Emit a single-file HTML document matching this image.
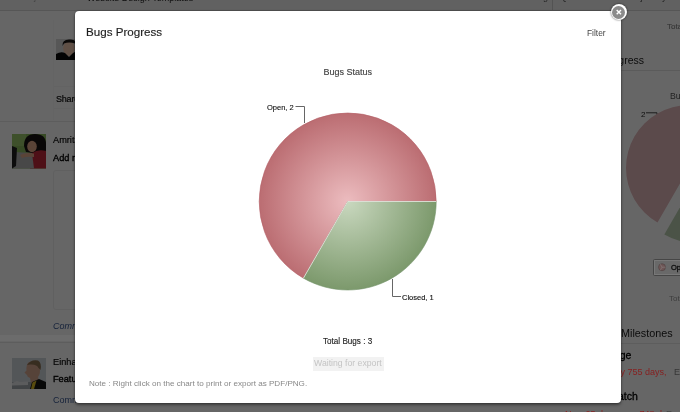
<!DOCTYPE html>
<html><head><meta charset="utf-8">
<style>
html,body{margin:0;padding:0;width:680px;height:412px;overflow:hidden;background:#fff;font-family:"Liberation Sans",sans-serif;}
.t{position:absolute;white-space:nowrap;line-height:1;will-change:transform;}
svg{will-change:transform;}
.ab{position:absolute;}
#ov{position:absolute;left:0;top:0;width:680px;height:412px;background:rgba(0,0,0,0.6);}
#modal{position:absolute;left:75px;top:11px;width:546px;height:392px;background:#fff;border-radius:4px;box-shadow:0 2px 3px rgba(0,0,0,0.4),0 0 2px rgba(0,0,0,0.4);}
</style></head><body>
<!-- background page -->
<div class="ab" style="left:0;top:0;width:680px;height:10px;background:#f3f3f3;"></div>
<div class="ab" style="left:0;top:9.5px;width:680px;height:1.5px;background:#d8d8d8;"></div>
<div class="t" style="left:20px;top:-7.3px;font-size:9px;color:#aaa;">Projects</div>
<div class="t" style="left:87px;top:-6.3px;font-size:9px;color:#222;">Website Design Templates</div>
<div class="t" style="left:498px;top:-7.2px;font-size:9px;color:#555;">Tasks &amp; Bugs</div>
<div class="ab" style="left:552px;top:0;width:1px;height:10px;background:#d0d0d0;"></div>
<div class="t" style="left:560px;top:-7.2px;font-size:9px;color:#555;">Q Search in this Project by Milestone</div>

<!-- left feed -->
<div class="ab" style="left:53px;top:86px;width:540px;height:1px;background:#f7f7f7;"></div>
<div class="ab" style="left:53px;top:108px;width:540px;height:1px;background:#f7f7f7;"></div>
<div class="ab" style="left:53px;top:20px;width:1px;height:100px;background:#fbfbfb;"></div>
<svg class="ab" style="left:56px;top:39px;" width="22" height="21" viewBox="0 0 22 21">
 <rect width="22" height="21" fill="#d9d9d9"/>
 <ellipse cx="13" cy="9.5" rx="5.8" ry="7.5" fill="#f0c8b0"/>
 <path d="M6.5,7 Q6,0 14,0.5 Q21,0 20.5,7 L19,4.5 Q13,2.5 8,4.5 Z" fill="#1a1412"/>
 <path d="M0,21 L0,15 Q5,12 9,14 L13,18 L17,14 Q20,12 22,13 L22,21 Z" fill="#0a0a0a"/>
</svg>
<div class="t" style="left:56px;top:94.5px;font-size:9px;color:#111;letter-spacing:-0.2px;-webkit-text-stroke:0.2px #111;">Share</div>
<div class="ab" style="left:0;top:121px;width:600px;height:1px;background:#e8e8e8;"></div>
<svg class="ab" style="left:12px;top:133.5px;" width="34" height="34.5" viewBox="0 0 34 34.5">
 <rect width="34" height="34.5" fill="#8ab85c"/>
 <rect x="0" y="0" width="14" height="12" fill="#9cc86c"/>
 <path d="M12,12 Q12,0 23,0 Q34,0 34,10 L34,24 Q30,22 26,20 L14,18 Z" fill="#181212"/>
 <ellipse cx="20" cy="12.5" rx="4.8" ry="5.8" fill="#e2aa8a"/>
 <path d="M18,34.5 L20,19 Q26,15 34,17 L34,34.5 Z" fill="#c42a3a"/>
 <path d="M2,18 L20,19 L22,34.5 L0,34.5 L0,20 Z" fill="#b4b4b4"/>
 <path d="M0,12 L5,14 L4,32 L0,34.5 Z" fill="#202020"/>
 <path d="M8,21 Q14,18 22,19.5 L22,23 Q15,22 10,24 Z" fill="#e2aa8a"/>
</svg>
<div class="t" style="left:53px;top:136.4px;font-size:9.2px;color:#111;-webkit-text-stroke:0.2px #111;">Amrita</div>
<div class="t" style="left:53px;top:154.1px;font-size:9.2px;color:#000;-webkit-text-stroke:0.35px #000;">Add new</div>
<div class="ab" style="left:53px;top:170px;width:540px;height:140px;border:1px solid #f0f0f0;box-sizing:border-box;border-radius:3px;"></div>
<div class="t" style="left:53px;top:321.9px;font-size:9px;font-style:italic;color:#3c5a94;">Comments</div>
<div class="ab" style="left:0;top:342px;width:600px;height:1px;background:#e8e8e8;"></div>
<svg class="ab" style="left:12px;top:358px;" width="34" height="31" viewBox="0 0 34 31">
 <rect width="34" height="31" fill="#d0d6dc"/>
 <rect y="24" width="34" height="7" fill="#a4aab0"/>
 <path d="M0,25 L5,23 L8,24 L16,23.5 L16,27 L0,27.5 Z" fill="#e4e6e8"/>
 <path d="M17,4 Q25,2 27.5,9 Q29,15 26,19 L27,23 L19,25 L18,20 Q15,19 15,17 L12.5,14.5 L14.5,12.5 Q14,6 17,4 Z" fill="#d8a890"/>
 <path d="M15,7 Q19,1 26,2.5 Q30,5 28.5,12 L26.5,10 Q25,6 18,6.5 Z" fill="#8a7050"/>
 <path d="M18,31 L20,24 L27,21 L34,24 L34,31 Z" fill="#161616"/>
 <path d="M19,31 L20.5,24.5 L24.5,22.5 L22,31 Z" fill="#dcbc24"/>
</svg>
<div class="t" style="left:53px;top:357.8px;font-size:9.2px;color:#111;-webkit-text-stroke:0.2px #111;">Einhard</div>
<div class="t" style="left:53px;top:375.2px;font-size:9.2px;color:#000;-webkit-text-stroke:0.35px #000;">Feature</div>
<div class="t" style="left:53px;top:395.9px;font-size:9px;color:#3c5a94;">Comments</div>

<!-- right widget -->
<div class="t" style="left:667px;top:23.2px;font-size:8px;color:#888;-webkit-text-stroke:0.15px #888;">Total</div>
<div class="t" style="left:602px;top:54.8px;font-size:10.5px;color:#222;">Progress</div>
<div class="ab" style="left:600px;top:70px;width:80px;height:1px;background:#e4e4e4;"></div>
<div class="t" style="left:670.2px;top:92.3px;font-size:8.7px;color:#555;">Bugs</div>
<svg class="ab" style="left:600px;top:100px;" width="80" height="200" viewBox="600 100 80 200">
 <text x="641" y="116.6" font-size="8" font-family="Liberation Sans" fill="#222">2</text>
 <polyline points="646,112.8 657,112.8 657,115" fill="none" stroke="#444" stroke-width="1"/>
 <path d="M689,168 L657.5,222.56 A63,63 0 1 1 752,168 Z" fill="#e4b8bc"/>
 <path d="M695.8,180 L758.8,180 A63,63 0 0 1 664.3,234.56 Z" fill="#bcd0b2"/>
</svg>
<div class="t" style="left:670.7px;top:263.8px;font-size:7.5px;color:#111;-webkit-text-stroke:0.3px #111;">Open</div>
<div class="t" style="left:669.4px;top:295.3px;font-size:8px;color:#999;">Total</div>
<div class="t" style="left:621px;top:327.6px;font-size:10.8px;color:#222;">Milestones</div>
<div class="ab" style="left:600px;top:343px;width:80px;height:1px;background:#e8e8e8;"></div>
<div class="t" style="left:604px;top:349.5px;font-size:10.5px;color:#000;-webkit-text-stroke:0.3px #000;">Stage</div>
<div class="t" style="left:674.2px;top:367.8px;font-size:9px;color:#888;">Ends</div>
<div class="t" style="left:611px;top:391px;font-size:10.5px;color:#000;-webkit-text-stroke:0.3px #000;">Patch</div>
<div class="t" style="left:666px;top:409.8px;font-size:9px;color:#aaa;">Ends</div>

<div id="ov"></div>
<div class="ab" style="left:653.3px;top:259.2px;width:40px;height:17.3px;border:1px solid #464646;box-sizing:border-box;border-radius:1.5px;box-shadow:inset 0 0 0 1px rgba(255,255,255,0.1);background:rgba(255,255,255,0.02);"></div>
<svg class="ab" style="left:657px;top:262px;" width="10" height="10" viewBox="0 0 10 10">
 <circle cx="5" cy="5.2" r="3.5" fill="#6e5656" stroke="#4e4040" stroke-width="0.6"/>
 <path d="M5,5.2 L8.5,5.2 M5,5.2 L3.3,2.2 M5,5.2 L3.3,8.2" stroke="#8a8080" stroke-width="0.6"/>
</svg>
<div class="ab" style="left:0;top:335px;width:600px;height:5.5px;background:rgba(255,255,255,0.04);"></div>
<div class="t" style="left:602px;top:367.8px;font-size:9px;color:#862020;">Delay 755 days,</div>
<div class="t" style="left:565px;top:409.8px;font-size:9px;color:#862020;">Now 25 days ago, 748 days</div>

<!-- modal -->
<div id="modal"></div>
<div class="t" style="left:86px;top:25.8px;font-size:11.6px;color:#1e1e1e;-webkit-text-stroke:0.15px #1e1e1e;">Bugs Progress</div>
<div class="t" style="left:587px;top:29.2px;font-size:8.4px;color:#444;">Filter</div>

<svg class="ab" style="left:75px;top:11px;" width="546" height="392" viewBox="75 11 546 392">
 <defs>
  <radialGradient id="gr" cx="347.7" cy="201.5" r="88.5" gradientUnits="userSpaceOnUse">
   <stop offset="0" stop-color="#ecbcbf"/>
   <stop offset="1" stop-color="#bb6d72"/>
  </radialGradient>
  <radialGradient id="gg" cx="347.7" cy="201.5" r="88.5" gradientUnits="userSpaceOnUse">
   <stop offset="0" stop-color="#c9d8bf"/>
   <stop offset="1" stop-color="#7c996c"/>
  </radialGradient>
 </defs>
 <text x="323.5" y="74.7" font-size="9" font-family="Liberation Sans" fill="#444" stroke="#444" stroke-width="0.15">Bugs Status</text>
 <path d="M347.7,201.5 L303.45,278.14 A88.5,88.5 0 1 1 436.2,201.5 Z" fill="url(#gr)" stroke="#b56268" stroke-width="0.6"/>
 <path d="M347.7,201.5 L436.2,201.5 A88.5,88.5 0 0 1 303.45,278.14 Z" fill="url(#gg)" stroke="#74946a" stroke-width="0.6"/>
 <path d="M303.45,278.14 L347.7,201.5 L436.2,201.5" fill="none" stroke="rgba(255,255,255,0.75)" stroke-width="0.9"/>
 <polyline points="295.5,106.5 304.5,106.5 304.5,123" fill="none" stroke="#666" stroke-width="1"/>
 <text x="267" y="109.6" font-size="7.5" font-family="Liberation Sans" fill="#111" stroke="#111" stroke-width="0.12">Open, 2</text>
 <polyline points="392.5,279 392.5,296.5 401,296.5" fill="none" stroke="#666" stroke-width="1"/>
 <text x="402" y="299.5" font-size="7.5" font-family="Liberation Sans" fill="#111" stroke="#111" stroke-width="0.12">Closed, 1</text>
</svg>

<div class="t" style="left:323px;top:337.9px;font-size:8.15px;color:#222;-webkit-text-stroke:0.12px #222;">Total Bugs : 3</div>
<div class="ab" style="left:312.5px;top:356.5px;width:71.5px;height:14px;background:#f2f2f2;"></div>
<div class="t" style="left:314px;top:358.5px;font-size:8.7px;color:#c4c4c4;">Waiting for export</div>
<div class="t" style="left:89px;top:379.8px;font-size:8.1px;color:#888;">Note : Right click on the chart to print or export as PDF/PNG.</div>

<!-- close button -->
<div class="ab" style="left:610.9px;top:4.3px;width:16px;height:16px;border-radius:50%;background:#fff;box-shadow:0 0 2px rgba(0,0,0,0.7);"></div>
<div class="ab" style="left:612.3px;top:5.7px;width:13.2px;height:13.2px;border-radius:50%;background:#8b8b8b;"></div>
<svg class="ab" style="left:610.9px;top:4.3px;" width="16" height="16" viewBox="0 0 16 16">
 <path d="M5.7,6 L10,10.3 M10,6 L5.7,10.3" stroke="#fff" stroke-width="1.4" stroke-linecap="butt"/>
</svg>
</body></html>
